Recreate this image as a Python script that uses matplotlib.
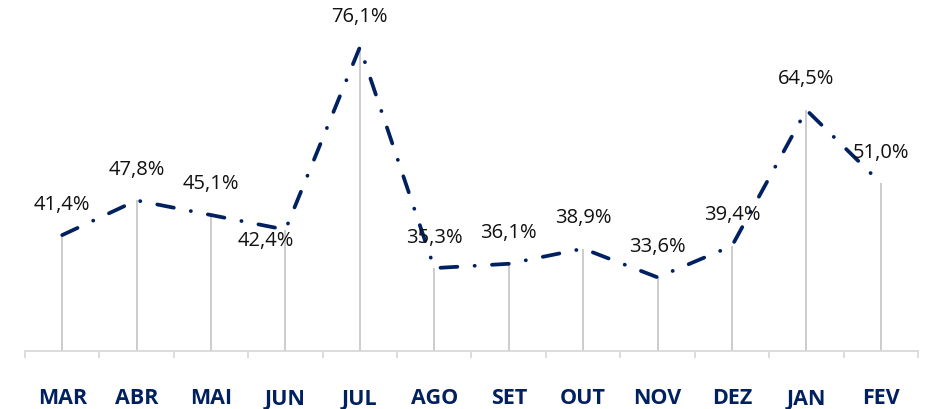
import matplotlib
matplotlib.use("Agg")
import matplotlib.pyplot as plt  # noqa: E402

months = ["MAR", "ABR", "MAI", "JUN", "JUL", "AGO", "SET", "OUT", "NOV", "DEZ", "JAN", "FEV"]
values = [41.4, 47.8, 45.1, 42.4, 76.1, 35.3, 36.1, 38.9, 33.6, 39.4, 64.5, 51.0]

_NAVY = "#002060"
_GRAY = "#c8c8c8"
_AXIS = "#d9d9d9"

plt.rcParams["font.family"] = ["Open Sans", "DejaVu Sans"]

fig = plt.figure(figsize=(9.32, 4.09), dpi=100)
ax = fig.add_axes([25 / 932, 1 - 351 / 409, 893 / 932, 325 / 409])

x = list(range(len(months)))
ymin, ymax = 20, 80

ax.vlines(x, ymin, values, color=_GRAY, linewidth=1.3, zorder=1)
ax.plot(x, values, color=_NAVY, linewidth=2.7,
        linestyle=(0, (4.5, 4.6, 0.05, 4.6)),
        dash_capstyle="round", zorder=2)

for i, v in enumerate(values):
    label = f"{v:.1f}%".replace(".", ",")
    dx, dy = 0, 22
    if months[i] == "JUN":
        dx, dy = -14, -8
    ax.annotate(label, (i, v), xytext=(dx, dy), textcoords="offset points",
                ha="center", va="center", fontsize=14.5, color="#111111")

ax.set_xlim(-0.5, len(months) - 0.5)
ax.set_ylim(ymin, ymax)

for side in ["top", "right", "left"]:
    ax.spines[side].set_visible(False)
ax.spines["bottom"].set_color(_AXIS)
ax.spines["bottom"].set_linewidth(1.3)
ax.set_yticks([])

ax.set_xticks(x)
ax.set_xticklabels(months, fontsize=15.5, fontweight="bold", color=_NAVY)
ax.tick_params(axis="x", which="major", length=0, pad=27)
ax.set_xticks([i - 0.5 for i in range(len(months) + 1)], minor=True)
ax.tick_params(axis="x", which="minor", length=5, color=_AXIS, width=1.3)

fig.savefig("out.png", dpi=100)
